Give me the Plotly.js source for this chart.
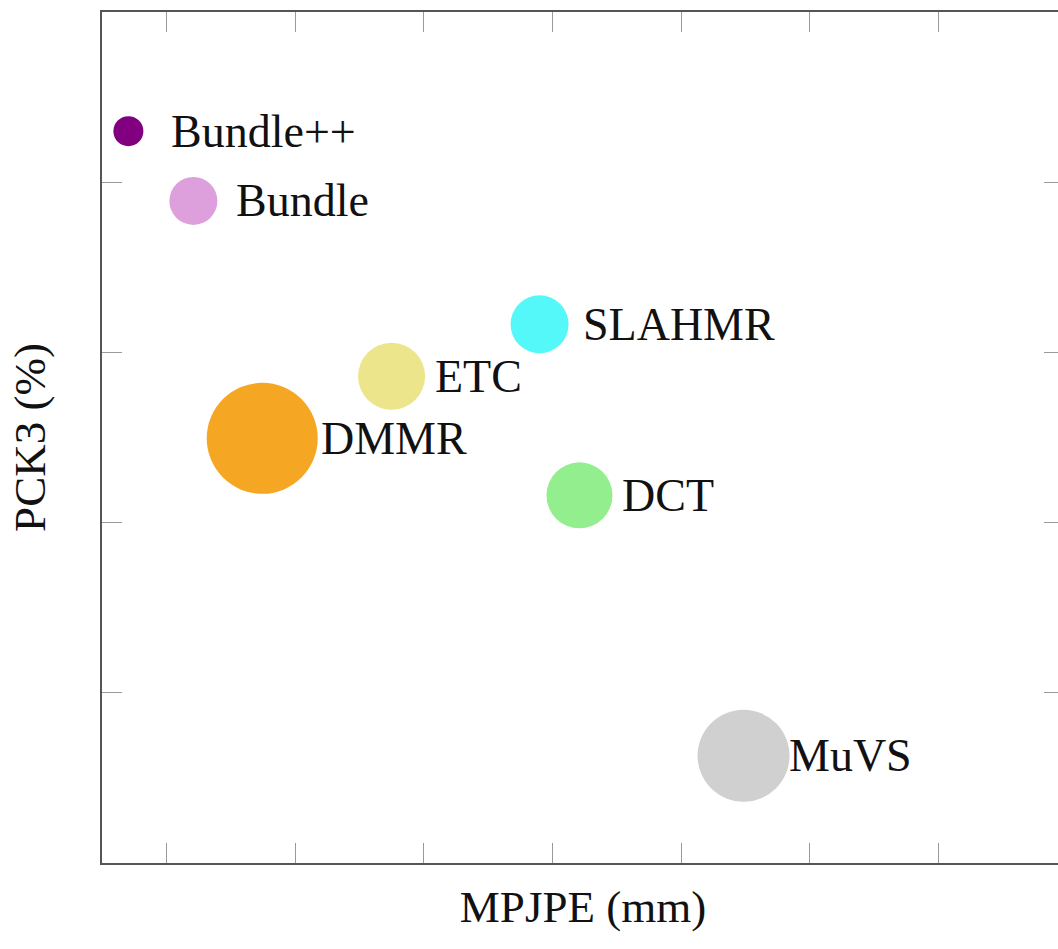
<!DOCTYPE html>
<html>
<head>
<meta charset="utf-8">
<script src="https://cdn.plot.ly/plotly-3.0.1.min.js"></script>
<style>
  html, body { margin: 0; padding: 0; background: #ffffff; overflow: hidden; }
  #chart { width: 1070px; height: 949px; }
</style>
</head>
<body>
<div id="chart"></div>
<script>
// Methods compared on MPJPE (lower is better) vs PCK3 (higher is better)
const methods = ['Bundle++', 'Bundle', 'SLAHMR', 'ETC', 'DMMR', 'DCT', 'MuVS'];
const mpjpe   = [14.1, 24.2, 78.0, 55.0, 34.9, 84.2, 109.7];
const pck3    = [88.6, 87.78, 86.33, 85.72, 84.99, 84.32, 81.26];
// bubble value per method (drawn as circle diameter via sizeref)
const bubble  = [3.0, 4.8, 5.8, 6.7, 11.1, 6.6, 9.2];

const colors = ['#800080', '#dda0dd', '#55f8f8', '#ede58c', '#f5a623', '#93ee8e', '#d0d0d0'];
// horizontal gap between bubble centre and its label, in px
const labelShift = [41, 41, 41, 41, 57, 41, 43];

const serif = 'Liberation Serif, Times New Roman, serif';

const trace = {
  type: 'scatter',
  mode: 'markers',
  x: mpjpe,
  y: pck3,
  marker: {
    size: bubble,
    sizemode: 'diameter',
    sizeref: 0.1,
    color: colors,
    opacity: 1,
    line: { width: 0 }
  },
  hoverinfo: 'skip'
};

const annotations = methods.map((m, i) => ({
  x: mpjpe[i],
  y: pck3[i],
  xref: 'x',
  yref: 'y',
  text: m,
  showarrow: false,
  xanchor: 'left',
  yanchor: 'middle',
  xshift: labelShift[i],
  font: { family: serif, size: 46, color: '#111111' }
}));

const axisCommon = {
  showgrid: false,
  zeroline: false,
  showline: true,
  linecolor: '#555555',
  linewidth: 2,
  mirror: 'ticks',
  ticks: 'inside',
  ticklen: 20,
  tickwidth: 1,
  tickcolor: '#9a9a9a',
  showticklabels: false
};

const layout = {
  width: 1070,
  height: 949,
  margin: { l: 102, r: 6, t: 12, b: 86 },
  paper_bgcolor: '#ffffff',
  plot_bgcolor: '#ffffff',
  showlegend: false,
  xaxis: Object.assign({}, axisCommon, {
    range: [10, 159.5],
    tick0: 20,
    dtick: 20,
    title: { text: 'MPJPE (mm)', font: { family: serif, size: 45, color: '#111111' }, standoff: 26 }
  }),
  yaxis: Object.assign({}, axisCommon, {
    range: [80, 90],
    tick0: 80,
    dtick: 2,
    title: { text: 'PCK3 (%)', font: { family: serif, size: 45, color: '#111111' }, standoff: 40 }
  }),
  annotations: annotations
};

Plotly.newPlot('chart', [trace], layout, { displayModeBar: false, staticPlot: true });
</script>
</body>
</html>
